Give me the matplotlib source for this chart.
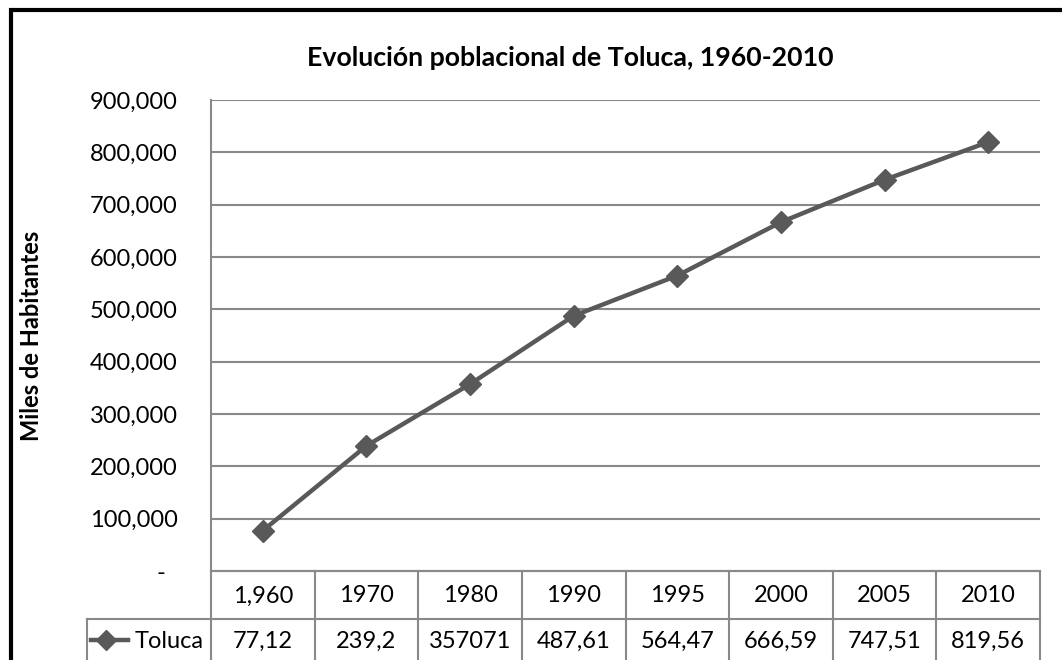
import matplotlib.pyplot as plt
from matplotlib.lines import Line2D
from matplotlib.patches import Rectangle
from matplotlib.ticker import FuncFormatter
import matplotlib.transforms as mtransforms

plt.rcParams["font.family"] = ["Lato", "DejaVu Sans"]

years = ["1,960", "1970", "1980", "1990", "1995", "2000", "2005", "2010"]
poblacion = [77120, 239200, 357071, 487610, 564470, 666590, 747510, 819560]
tabla_valores = ["77,12", "239,2", "357071", "487,61", "564,47", "666,59", "747,51", "819,56"]
serie = "Toluca"
yticks = [0, 100000, 200000, 300000, 400000, 500000, 600000, 700000, 800000, 900000]

W, H = 1062, 660
LINE = "#595959"
GRID = "#898989"
FS = 17

fig = plt.figure(figsize=(W / 100, H / 100), dpi=100)


def fx(px):
    return px / W


def fy(py):
    return 1 - py / H


# chart frame (cut off at right and bottom)
fig.patches.append(Rectangle((fx(10.5), fy(700)), fx(1100), fy(9.5) - fy(700),
                             transform=fig.transFigure, fill=False,
                             edgecolor="black", linewidth=3))

left, right, top, bottom = 211, 1040, 100, 571
ax = fig.add_axes([fx(left), fy(bottom), fx(right - left), fy(top) - fy(bottom)])

x = list(range(len(years)))
ax.plot(x, poblacion, color=LINE, linewidth=3.2, marker="D", markersize=11,
        markeredgecolor=LINE, markerfacecolor=LINE, zorder=3)

ax.set_xlim(-0.5, len(years) - 0.5)
ax.set_ylim(0, 900000)
ax.set_yticks(yticks)
# accounting style: zero shown as a dash
ax.yaxis.set_major_formatter(FuncFormatter(lambda v, p: "-  " if v == 0 else f"{int(v):,}"))
ax.tick_params(axis="y", length=0, pad=24, labelsize=FS)
ax.set_xticks([])
for yt in yticks[1:]:
    ax.axhline(yt, color=GRID, linewidth=1.5, zorder=1)
for s in ["top", "right"]:
    ax.spines[s].set_visible(False)
ax.spines["left"].set_color(GRID)
ax.spines["left"].set_linewidth(1.5)
ax.spines["bottom"].set_color(GRID)
ax.spines["bottom"].set_linewidth(1.5)

ax.set_ylabel("Miles de Habitantes", fontsize=17, fontweight="bold")
ax.yaxis.set_label_coords(-0.2027, 0.5)

fig.text(fx(570), fy(58), "Evolución poblacional de Toluca, 1960-2010",
         ha="center", va="center", fontsize=19.3, fontweight="bold")

# data table below the axis
trans = mtransforms.blended_transform_factory(ax.transData, fig.transFigure)
row1_top, row_sep, row2_bot = bottom, 619, 680
for i in range(len(years) + 1):
    xb = i - 0.5
    ax.add_line(Line2D([xb, xb], [fy(row1_top), fy(row2_bot)], transform=trans,
                       color=GRID, linewidth=1.5, clip_on=False))
ax.add_line(Line2D([-0.5, len(years) - 0.5], [fy(row1_top), fy(row1_top)],
                   transform=trans, color=GRID, linewidth=1.5, clip_on=False))
fig.add_artist(Line2D([fx(87), fx(right)], [fy(row_sep), fy(row_sep)],
                      color=GRID, linewidth=1.5))
fig.add_artist(Line2D([fx(87), fx(87)], [fy(row_sep), fy(row2_bot)],
                      color=GRID, linewidth=1.5))

for i, (yr, val) in enumerate(zip(years, tabla_valores)):
    ax.text(i, fy(596), yr, transform=trans, ha="center", va="center", fontsize=FS)
    ax.text(i, fy(641), val, transform=trans, ha="center", va="center", fontsize=FS)

# legend key in the table
fig.add_artist(Line2D([fx(91), fx(128)], [fy(640), fy(640)], color=LINE,
                      linewidth=3.2))
fig.add_artist(Line2D([fx(106)], [fy(640)], color=LINE, linestyle="none",
                      marker="D", markersize=10, markerfacecolor=LINE,
                      markeredgecolor=LINE))
fig.text(fx(204), fy(641), serie, ha="right", va="center", fontsize=FS)

fig.savefig("out.png", dpi=100)
